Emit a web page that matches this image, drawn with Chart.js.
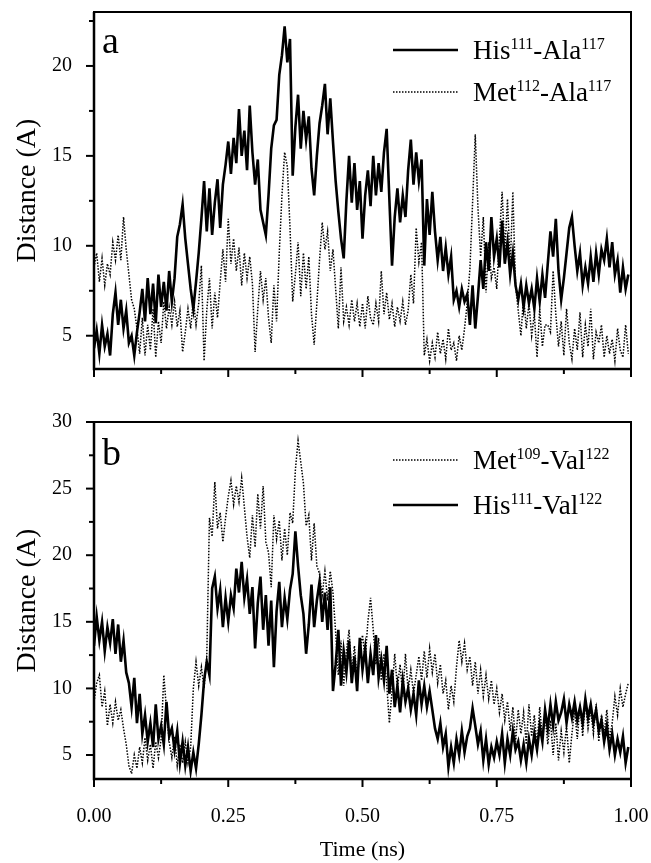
<!DOCTYPE html>
<html>
<head>
<meta charset="utf-8">
<script src="https://cdn.jsdelivr.net/npm/chart.js@4.4.0/dist/chart.umd.min.js"></script>
<style>
    body { margin: 0; background: #fff; }
    #wrap { position: relative; width: 651px; height: 863px; }
    canvas { position: absolute; left: 0; }
    #chartA { top: 0; }
    #chartB { top: 400px; }
</style>
</head>
<body>
<div id="wrap">
    <canvas id="chartA" width="651" height="400"></canvas>
    <canvas id="chartB" width="651" height="463"></canvas>
</div>
<script>
const timeStep = 0.005;

// panel a
const hisAla = [
    4.3, 5.3, 4.0, 5.6, 4.4, 5.1, 3.9, 6.2, 7.4, 5.6,
    7.0, 5.4, 6.4, 4.6, 5.0, 3.9, 5.2, 6.3, 7.6, 5.8,
    8.2, 6.2, 7.9, 5.7, 8.4, 6.6, 8.0, 6.4, 8.6, 6.9,
    8.2, 10.5, 11.2, 12.3, 10.4, 9.0, 7.6, 6.5, 8.0, 9.6,
    11.5, 13.6, 10.8, 13.2, 10.6, 12.4, 13.7, 11.0, 13.4, 14.5,
    15.8, 14.0, 16.0, 14.6, 17.6, 15.0, 16.4, 14.2, 17.8, 15.2,
    13.4, 14.8, 12.0, 11.3, 10.6, 12.8, 15.4, 16.7, 17.0, 19.5,
    20.6, 22.2, 20.2, 21.5, 13.9, 16.6, 18.4, 15.4, 17.5, 15.9,
    17.2, 14.3, 12.8, 15.0, 16.8, 17.8, 19.0, 16.2, 18.2, 15.8,
    13.6, 11.9, 10.4, 9.3, 12.5, 15.0, 12.4, 14.6, 12.0, 13.6,
    10.4, 12.8, 14.2, 12.2, 15.0, 12.8, 14.6, 13.0, 15.2, 16.5,
    12.6, 8.9, 11.6, 13.2, 11.3, 12.8, 11.6, 14.2, 15.9, 13.4,
    15.2, 13.6, 14.8, 8.9, 12.6, 10.6, 13.0, 10.8, 9.2, 10.5,
    8.6, 9.9, 8.4, 9.4, 7.0, 7.5, 6.6, 7.6, 6.9, 7.3,
    5.6, 7.8, 5.4, 7.2, 9.2, 7.6, 10.2, 8.6, 11.6, 9.4,
    10.4, 8.8, 11.4, 9.0, 10.2, 8.4, 9.6, 7.8, 7.0, 7.9,
    6.6, 7.8, 6.8, 7.6, 6.5, 8.2, 6.9, 8.4, 7.1, 9.0,
    10.8, 9.4, 11.5, 8.6, 7.0, 8.2, 9.6, 11.0, 11.6, 10.0,
    8.6, 9.6, 7.8, 8.8, 7.9, 9.4, 8.0, 9.6, 8.4, 9.8,
    9.2, 10.4, 8.8, 10.2, 8.4, 9.2, 7.4, 8.8, 7.6, 8.4
];
const metAla = [
    8.8, 9.6, 8.0, 9.3, 7.8, 9.0, 8.4, 10.2, 9.2, 10.6,
    9.2, 11.6, 9.8, 8.4, 7.0, 6.5, 5.4, 4.0, 6.0, 3.9,
    5.6, 4.2, 6.5, 3.8, 5.8, 4.6, 6.9, 5.4, 6.6, 5.6,
    6.9, 5.5, 6.4, 4.1, 5.2, 6.5, 5.4, 7.0, 5.6, 6.8,
    8.9, 3.6, 6.4, 8.2, 5.4, 7.4, 6.0, 8.0, 9.8, 8.0,
    11.5, 9.0, 10.4, 8.6, 9.9, 7.8, 9.6, 8.2, 9.4, 7.9,
    4.1, 6.5, 8.6, 7.0, 8.2, 6.0, 4.6, 7.8, 5.8, 9.6,
    12.8, 15.2, 14.4, 11.0, 6.9, 8.4, 10.2, 7.2, 9.6, 7.6,
    9.4, 6.2, 4.5, 6.8, 9.2, 11.3, 9.8, 10.8, 8.6, 9.8,
    7.6, 5.4, 8.8, 5.8, 6.6, 5.6, 7.0, 5.8, 6.8, 5.5,
    6.8, 5.4, 7.2, 6.0, 5.6, 6.8, 5.8, 8.6, 6.2, 7.4,
    5.9, 6.8, 5.5, 6.6, 5.8, 6.9, 5.6, 6.4, 8.4, 6.8,
    11.0, 9.1, 10.2, 3.9, 4.8, 3.6, 4.6, 3.8, 5.2, 4.0,
    4.8, 3.7, 5.4, 4.2, 4.6, 3.6, 5.0, 4.2, 5.4, 6.8,
    8.7, 12.4, 16.2, 12.1, 9.4, 11.6, 7.4, 10.2, 8.2, 8.8,
    7.6, 10.4, 13.0, 9.6, 12.6, 8.8, 13.0, 7.8, 6.4, 5.0,
    7.2, 5.4, 6.8, 5.0, 6.2, 3.8, 6.5, 4.4, 5.6, 5.6,
    5.2, 8.6, 6.2, 4.4, 5.8, 3.9, 6.5, 4.6, 3.7, 5.4,
    4.2, 6.3, 3.8, 5.6, 4.4, 6.5, 3.7, 5.2, 4.6, 5.6,
    3.8, 5.0, 4.0, 4.8, 3.6, 5.4, 4.2, 3.8, 5.6, 4.0
];

// panel b
const metVal = [
    9.0, 10.4, 11.0, 8.6, 9.8, 7.2, 8.8, 7.4, 9.0, 7.6,
    8.4, 7.0, 5.8, 4.2, 3.6, 5.0, 4.0, 5.6, 4.4, 6.3,
    4.6, 5.8, 4.0, 6.0, 4.8, 6.2, 11.0, 8.4, 6.0, 4.8,
    6.4, 4.2, 5.8, 4.4, 6.0, 4.4, 5.6, 10.0, 12.0, 10.2,
    11.6, 10.0, 12.4, 22.8, 21.4, 25.5, 22.0, 23.2, 21.0, 22.8,
    24.4, 25.6, 23.8, 25.2, 24.0, 25.8, 23.6, 21.4, 19.8, 23.0,
    20.6, 24.6, 22.0, 25.2, 21.0, 20.2, 17.6, 23.0, 21.2, 22.6,
    19.6, 22.0, 20.0, 23.2, 22.4, 26.4, 28.6, 27.0, 25.4, 22.2,
    23.0, 19.6, 22.4, 19.2, 18.6, 17.0, 18.8, 16.6, 18.8, 17.2,
    14.2, 11.0, 13.6, 10.2, 12.8, 14.4, 11.0, 13.2, 10.6, 12.8,
    14.0, 12.2, 15.0, 16.8, 14.4, 11.8, 13.8, 10.6, 12.6, 10.4,
    7.4, 9.8, 12.6, 10.0, 11.8, 9.4, 12.6, 9.8, 11.4, 9.6,
    11.0, 12.4, 10.6, 12.8, 10.8, 13.0, 11.2, 12.6, 10.4, 11.8,
    9.6, 10.6, 8.4, 10.2, 9.0, 11.6, 13.6, 12.0, 13.4, 11.4,
    12.4, 10.2, 12.0, 9.6, 11.4, 9.4, 11.0, 9.2, 10.6, 8.8,
    10.0, 8.2, 9.6, 7.6, 9.0, 6.8, 8.6, 6.0, 8.4, 6.6,
    8.2, 5.8, 8.8, 6.4, 8.0, 5.6, 8.6, 6.2, 8.0, 5.8,
    7.6, 5.0, 7.4, 4.6, 6.8, 5.2, 7.2, 4.4, 6.6, 8.4,
    6.2, 8.8, 6.4, 9.0, 7.0, 8.4, 6.6, 8.8, 6.0, 8.0,
    6.6, 8.4, 6.2, 7.4, 9.4, 8.0, 10.0, 8.6, 9.6, 10.4
];
const hisVal = [
    13.2, 15.4, 13.6, 15.0, 12.8, 14.6, 13.4, 15.2, 12.6, 14.8,
    12.0, 13.6, 11.2, 10.4, 8.6, 10.8, 7.4, 9.6, 6.6, 8.0,
    6.0, 7.4, 5.6, 8.8, 6.2, 7.2, 5.8, 9.0, 6.4, 7.0,
    5.4, 6.8, 4.4, 6.0, 4.2, 5.6, 3.8, 5.2, 4.0, 5.8,
    8.0, 10.6, 12.0, 11.0, 17.5, 18.4, 16.0, 17.4, 14.6, 16.8,
    15.0, 17.0, 16.0, 19.0, 17.2, 19.5, 16.8, 18.2, 15.6, 17.6,
    13.0, 16.4, 18.4, 14.4, 17.0, 13.2, 16.6, 11.6, 15.8, 18.0,
    14.6, 16.8, 15.2, 17.4, 18.6, 21.8, 19.2, 17.0, 15.6, 12.6,
    14.8, 17.8, 14.6, 16.6, 18.0, 15.0, 17.2, 14.4, 17.6, 9.8,
    11.8, 14.4, 10.2, 12.8, 11.2, 13.6, 10.4, 12.4, 9.8, 13.8,
    11.4, 13.0, 10.4, 12.6, 11.0, 14.0, 10.8, 12.2, 10.6, 13.2,
    9.6, 11.4, 8.6, 10.2, 8.2, 10.6, 9.0, 10.0, 8.4, 9.6,
    8.0, 10.6, 8.8, 10.2, 8.6, 9.8, 8.4, 7.0, 6.2, 7.4,
    5.6, 6.6, 4.1, 5.6, 4.4, 6.2, 5.0, 6.8, 5.2, 6.4,
    7.0, 8.5, 7.2, 5.8, 6.8, 4.6, 6.2, 4.3, 5.6, 4.8,
    6.0, 5.0, 6.6, 4.4, 6.2, 5.0, 6.8, 5.4, 6.0, 4.6,
    5.8, 4.4, 6.2, 5.0, 6.6, 5.4, 7.2, 6.0, 8.4, 7.0,
    8.8, 7.2, 9.0, 7.6, 8.2, 9.2, 7.4, 8.8, 7.8, 9.0,
    7.6, 8.6, 7.4, 9.2, 7.8, 8.8, 7.4, 8.4, 6.8, 7.6,
    6.0, 7.2, 5.4, 6.6, 5.0, 6.2, 5.2, 6.4, 4.4, 5.6
];

// axis ticks
const xTicks = [0, 0.125, 0.25, 0.375, 0.5, 0.625, 0.75, 0.875, 1];
const xLabels = ['0.00', '', '0.25', '', '0.50', '', '0.75', '', '1.00'];
const yTicksA = [5, 7.5, 10, 12.5, 15, 17.5, 20, 22.5];
const yTicksB = [5, 7.5, 10, 12.5, 15, 17.5, 20, 22.5, 25, 27.5, 30];

const serif = "'Liberation Serif', 'Times New Roman', serif";

function toPoints(values) {
    return values.map((v, i) => ({ x: i * timeStep, y: v }));
}

// frame, tick marks, legend with superscripts, panel letter
const panelDecor = {
    id: 'panelDecor',
    afterDraw(chart, args, opts) {
        const ctx = chart.ctx;
        const area = chart.chartArea;
        const xs = chart.scales.x;
        const ys = chart.scales.y;
        ctx.save();
        ctx.strokeStyle = '#000';

        ctx.lineWidth = 2;
        ctx.strokeRect(area.left, area.top, area.right - area.left, area.bottom - area.top);
        ctx.lineWidth = 2.5;
        ctx.beginPath();
        ctx.moveTo(area.left, area.top);
        ctx.lineTo(area.left, area.bottom);
        ctx.lineTo(area.right, area.bottom);
        ctx.stroke();

        ctx.lineWidth = 2;
        xTicks.forEach(v => {
            const px = xs.getPixelForValue(v);
            const len = Number.isInteger(v * 4) ? 8 : 5;
            ctx.beginPath();
            ctx.moveTo(px, area.bottom);
            ctx.lineTo(px, area.bottom + len);
            ctx.stroke();
        });
        opts.yTicks.forEach(v => {
            const py = ys.getPixelForValue(v);
            const len = v % 5 === 0 ? 8 : 5;
            ctx.beginPath();
            ctx.moveTo(area.left, py);
            ctx.lineTo(area.left - len, py);
            ctx.stroke();
        });

        ctx.fillStyle = '#000';
        ctx.font = '38px ' + serif;
        ctx.textBaseline = 'alphabetic';
        ctx.fillText(opts.letter, area.left + 8, area.top + opts.letterY);

        opts.rows.forEach(row => {
            const ds = chart.data.datasets[row.dataset];
            const y = area.top + row.y;
            ctx.save();
            ctx.lineWidth = ds.borderWidth;
            ctx.setLineDash(ds.borderDash || []);
            ctx.beginPath();
            ctx.moveTo(area.left + 299, y);
            ctx.lineTo(area.left + 364, y);
            ctx.stroke();
            ctx.restore();

            let x = area.left + 379;
            row.parts.forEach((part, i) => {
                const sup = i % 2 === 1;
                ctx.font = (sup ? '16px ' : '27px ') + serif;
                ctx.fillText(part, x, sup ? y - 1 : y + 9);
                x += ctx.measureText(part).width;
            });
        });
        ctx.restore();
    }
};

function makePanel(canvasId, config) {
    const ctx = document.getElementById(canvasId).getContext('2d');
    return new Chart(ctx, {
        type: 'line',
        data: { datasets: config.datasets },
        options: {
            responsive: false,
            animation: false,
            devicePixelRatio: 1,
            layout: { padding: { top: config.padTop, right: 20, left: 0, bottom: 0 } },
            elements: { point: { radius: 0 }, line: { tension: 0 } },
            plugins: {
                legend: { display: false },
                tooltip: { enabled: false },
                panelDecor: { letter: config.letter, letterY: config.letterY, rows: config.rows, yTicks: config.yTicks }
            },
            scales: {
                x: {
                    type: 'linear',
                    min: 0,
                    max: 1,
                    afterBuildTicks: scale => { scale.ticks = xTicks.map(v => ({ value: v })); },
                    afterFit: scale => {
                        scale.height = config.xHeight;
                        scale.paddingLeft = 0;
                        scale.paddingRight = 0;
                    },
                    grid: { display: false },
                    border: { display: false },
                    ticks: {
                        display: config.showX,
                        autoSkip: false,
                        maxRotation: 0,
                        padding: 18,
                        color: '#000',
                        font: { family: serif, size: 20 },
                        callback: (v, i) => xLabels[i]
                    },
                    title: {
                        display: config.showX,
                        text: 'Time (ns)',
                        color: '#000',
                        font: { family: serif, size: 22, lineHeight: 1.2 },
                        padding: { top: 0, bottom: 0 }
                    }
                },
                y: {
                    min: config.yMin,
                    max: config.yMax,
                    afterBuildTicks: scale => { scale.ticks = config.yTicks.map(v => ({ value: v })); },
                    afterFit: scale => {
                        scale.width = 94;
                        scale.paddingTop = 0;
                        scale.paddingBottom = 0;
                    },
                    grid: { display: false },
                    border: { display: false },
                    ticks: {
                        padding: 14,
                        color: '#000',
                        font: { family: serif, size: 20 },
                        callback: v => (v % 5 === 0 ? v : '')
                    },
                    title: {
                        display: true,
                        text: 'Distance (A)',
                        color: '#000',
                        font: { family: serif, size: 28, lineHeight: 1.2 },
                        padding: { top: 11, bottom: 0 }
                    }
                }
            }
        },
        plugins: [panelDecor]
    });
}

const solid = { borderColor: '#000', borderWidth: 2.6, pointRadius: 0, fill: false };
const dotted = { borderColor: '#000', borderWidth: 1.5, borderDash: [1.5, 1.5], pointRadius: 0, fill: false };

makePanel('chartA', {
    padTop: 12,
    xHeight: 31,
    showX: false,
    yMin: 3.15,
    yMax: 23,
    yTicks: yTicksA,
    letter: 'a',
    letterY: 41,
    datasets: [
        Object.assign({ label: 'Met112-Ala117', data: toPoints(metAla) }, dotted),
        Object.assign({ label: 'His111-Ala117', data: toPoints(hisAla) }, solid)
    ],
    rows: [
        { dataset: 1, y: 38, parts: ['His', '111', '-Ala', '117'] },
        { dataset: 0, y: 80, parts: ['Met', '112', '-Ala', '117'] }
    ]
});

makePanel('chartB', {
    padTop: 22,
    xHeight: 84,
    showX: true,
    yMin: 3.2,
    yMax: 30,
    yTicks: yTicksB,
    letter: 'b',
    letterY: 43,
    datasets: [
        Object.assign({ label: 'Met109-Val122', data: toPoints(metVal) }, dotted),
        Object.assign({ label: 'His111-Val122', data: toPoints(hisVal) }, solid)
    ],
    rows: [
        { dataset: 0, y: 38, parts: ['Met', '109', '-Val', '122'] },
        { dataset: 1, y: 83, parts: ['His', '111', '-Val', '122'] }
    ]
});
</script>
</body>
</html>
